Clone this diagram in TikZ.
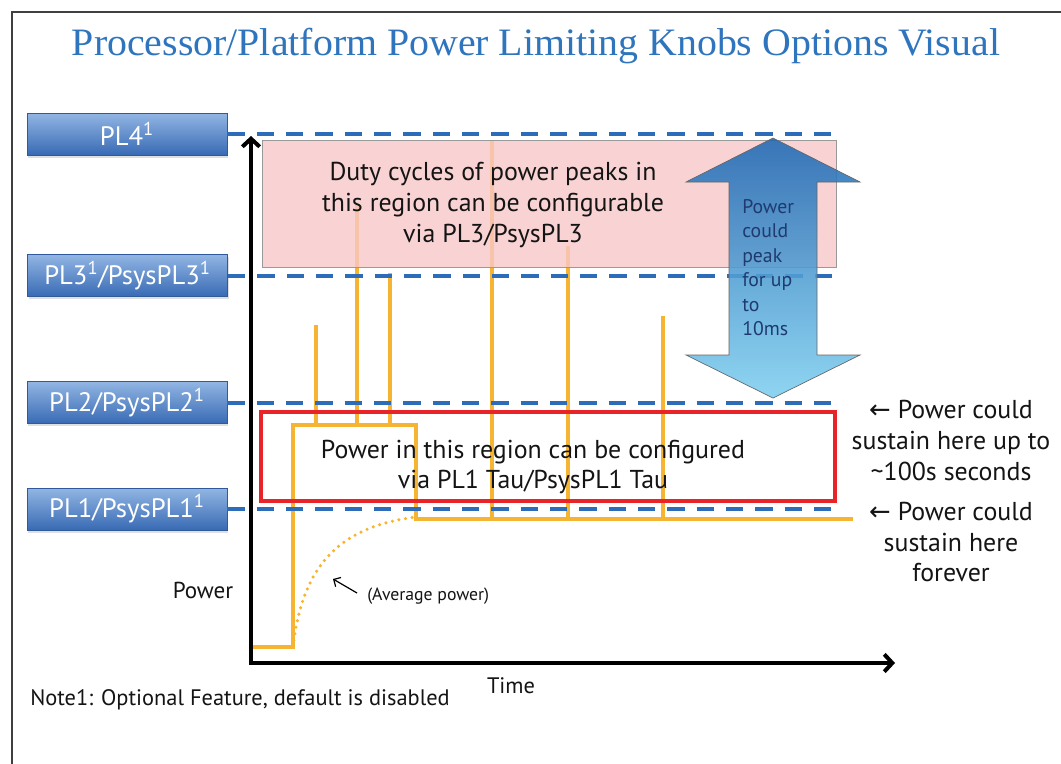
\documentclass[tikz,border=0pt]{standalone}
\usepackage{fontspec}
\setmainfont{PT Sans}
\newfontfamily\titlefont{Liberation Serif}
\newfontfamily\symfont{DejaVu Sans}
\usetikzlibrary{arrows.meta,shadows}

\definecolor{titleblue}{RGB}{46,117,190}
\definecolor{knobtop}{RGB}{146,182,228}
\definecolor{knobbot}{RGB}{56,106,180}
\definecolor{limitblue}{RGB}{44,108,184}
\definecolor{peakorange}{RGB}{245,180,50}
\definecolor{regionpink}{RGB}{248,200,200}
\definecolor{regionred}{RGB}{232,36,40}
\definecolor{arrowtop}{RGB}{30,104,180}
\definecolor{arrowmid}{RGB}{120,176,216}
\definecolor{arrowbot}{RGB}{128,208,240}
\definecolor{arrowtext}{RGB}{30,58,110}
\definecolor{bodytext}{RGB}{20,20,20}

\newcommand{\larr}{{\symfont\char"2190}}

\begin{document}
\begin{tikzpicture}[x=0.75pt,y=-0.75pt,
  knob/.style={draw=knobbot!85!black, line width=0.6pt, top color=knobtop, bottom color=knobbot,
    minimum width=150pt, minimum height=31.5pt, inner sep=0pt, text=white,
    font=\fontsize{20}{23}\selectfont,
    drop shadow={shadow xshift=1pt, shadow yshift=-2pt, opacity=0.25}},
  limit/.style={draw=limitblue, line width=3pt, dash pattern=on 13pt off 9pt},
  trace/.style={draw=peakorange, line width=2.6pt},
  body/.style={font=\fontsize{19.4}{23.2}\selectfont, text=bodytext, align=center, inner sep=0pt},
  axisline/.style={draw=black, line width=3pt, {Straight Barb[length=6pt,width=13pt]}-{Straight Barb[length=6pt,width=13pt]}}]

\useasboundingbox (0,0) rectangle (1061,764);
\fill[white] (0,0) rectangle (1061,764);
\draw[black!75, line width=1.5pt] (11.5,764) -- (11.5,11.5) -- (1061,11.5);

% title
\node[anchor=base, inner sep=0pt] (title) at (536,55)
  {\resizebox{696pt}{20.5pt}{\titlefont\color{titleblue}Processor/Platform Power Limiting Knobs Options Visual}};

% power trace with its peaks
\draw[trace, line join=miter] (252,647) -- (293,647) -- (293,425) -- (416,425) -- (416,519) -- (853,519);
\draw[trace] (316,425) -- (316,325);
\draw[trace] (357,425) -- (357,205);
\draw[trace] (390,425) -- (390,273);
\draw[trace] (492,519) -- (492,141);
\draw[trace] (568,519) -- (568,246);
\draw[trace] (663,519) -- (663,316);

% average power curve
\draw[draw=peakorange, line width=2.6pt, line cap=round, dash pattern=on 0pt off 5pt]
  (293,647) .. controls (302,570) and (335,527) .. (416,517);

% PL3 peak region
\draw[fill=regionpink, fill opacity=0.8, draw=black!40, line width=0.5pt] (262,140) rectangle (836,267);
\node[body] (duty) at (493,205) {Duty cycles of power peaks in\\this region can be configurable\\via PL3/PsysPL3};

% PL1 tau region
\draw[draw=regionred, line width=3pt] (261,412) rectangle (835,501);
\node[body] (tau) at (533,467) {Power in this region can be configured\\via PL1 Tau/PsysPL1 Tau};

% limit knobs and their levels
\coordinate (rim) at (838,0);
\node[knob] (pl4) at (127,134) {PL4\textsuperscript{1}};
\node[knob] (pl3) at (127.5,275.5) {PL3\textsuperscript{1}/PsysPL3\textsuperscript{1}};
\node[knob] (pl2) at (127,402.5) {PL2/PsysPL2\textsuperscript{1}};
\node[knob] (pl1) at (127,509) {PL1/PsysPL1\textsuperscript{1}};
\foreach \k in {pl4,pl3,pl2,pl1}
  \draw[limit] (\k.east) -- (\k.east -| rim);

% peak duration arrow
\shade[top color=arrowtop, middle color=arrowmid, bottom color=arrowbot, opacity=0.88]
  (773,138) -- (860,182) -- (817,182) -- (817,355) -- (860,355) -- (773,398)
  -- (686,355) -- (729,355) -- (729,182) -- (686,182) -- cycle;
\draw[black!60, line width=0.5pt]
  (773,138) -- (860,182) -- (817,182) -- (817,355) -- (860,355) -- (773,398)
  -- (686,355) -- (729,355) -- (729,182) -- (686,182) -- cycle;
\node[anchor=west, align=left, inner sep=0pt, text=arrowtext, font=\fontsize{14.8}{18.4}\selectfont]
  (peak) at (742,267.5) {Power\\could\\peak\\for up\\to\\10ms};

% axes
\coordinate (origin) at (251,663);
\coordinate (ytip) at (251,136);
\coordinate (xtip) at (895,663);
\draw[axisline] (ytip) -- (origin) -- (xtip);
\node[font=\fontsize{17.3}{20}\selectfont, text=bodytext, inner sep=0pt] (ylab) at (203,590) {Power};
\node[font=\fontsize{16.8}{20}\selectfont, text=bodytext, inner sep=0pt] (xlab) at (511,686) {Time};

% average power note
\coordinate (avgtail) at (357,593);
\coordinate (avgtip) at (333,579);
\draw[line width=0.9pt, -{Straight Barb[length=4pt,width=8pt]}] (avgtail) -- (avgtip);
\node[anchor=west, inner sep=0pt, font=\fontsize{13.3}{15}\selectfont, text=bodytext] (avg) at (367,596) {(Average power)};

% sustain notes
\node[body] (sus2) at (951,440.5) {\larr{} Power could\\sustain here up to\\\textasciitilde100s seconds};
\node[body] (sus1) at (951,542) {\larr{} Power could\\sustain here\\forever};

% footnote
\node[anchor=west, inner sep=0pt, font=\fontsize{16.8}{18}\selectfont, text=bodytext] (note) at (30,700)
  {Note1: Optional Feature, default is disabled};
\end{tikzpicture}
\end{document}
